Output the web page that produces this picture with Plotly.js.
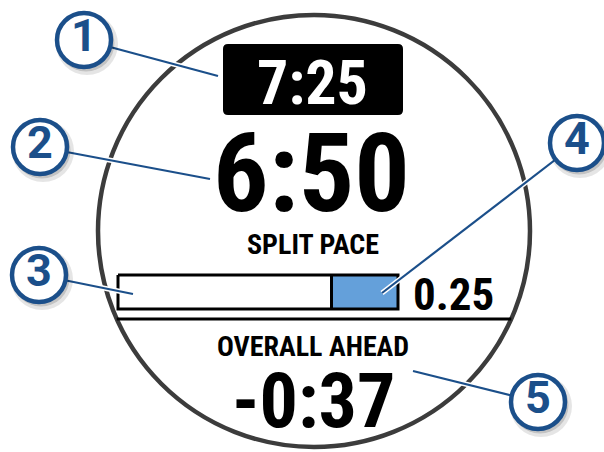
<!DOCTYPE html>
<html><head><meta charset="utf-8">
<script src="https://cdn.plot.ly/plotly-3.0.1.min.js"></script>
<style>html,body{margin:0;padding:0;background:#fff;}#chart{width:604px;height:452px;}</style>
</head><body><div id="chart"></div>
<script>
// ---- data ----
const targetPace = "7:25";
const splitPace = "6:50";
const splitLabel = "SPLIT PACE";
const splitProgress = 0.25;           // fraction of split completed
const splitDistanceLabel = "0.25";
const overallLabel = "OVERALL AHEAD";
const overallValue = "-0:37";
const calloutNumbers = ["1", "2", "3", "4", "5"];
const calloutX = [84, 40, 39, 577, 538];
const calloutY = [40, 147, 275, 143, 402];
const calloutTipX = [218, 210, 133, 382, 413];
const calloutTipY = [76, 179, 294, 293, 371];

// ---- geometry ----
const FONT = "Roboto Condensed, Liberation Sans Narrow, DejaVu Sans Condensed, Roboto, sans-serif";
const BLUE = "#1b4f8a";
const cx = 314, cy = 231, R = 216;
const boxL = 118, boxR = 398, boxT = 275, boxB = 309;
const divY = 319;
const half = Math.sqrt(R*R - (divY-cy)*(divY-cy));

const traces = [];
// blue progress bar
const barW = (boxR - boxL) * splitProgress * 0.95;
traces.push({type:'bar', orientation:'h', y:[(boxT+boxB)/2], x:[barW], base:[boxR - barW],
  width:[boxB-boxT], marker:{color:'#64a0da', line:{width:0}}, hoverinfo:'skip', showlegend:false});
// box outline
traces.push({type:'scatter', mode:'lines', x:[boxL,boxR,boxR,boxL,boxL], y:[boxT,boxT,boxB,boxB,boxT],
  line:{color:'#000', width:3}, hoverinfo:'skip', showlegend:false});
traces.push({type:'scatter', mode:'lines', x:[boxR-barW, boxR-barW], y:[boxT,boxB],
  line:{color:'#000', width:3}, hoverinfo:'skip', showlegend:false});
// callout lines
for (let i=0;i<calloutNumbers.length;i++){
  traces.push({type:'scatter', mode:'lines', x:[calloutX[i], calloutTipX[i]], y:[calloutY[i], calloutTipY[i]],
    line:{color:'#ffffff', width:5}, hoverinfo:'skip', showlegend:false});
  traces.push({type:'scatter', mode:'lines', x:[calloutX[i], calloutTipX[i]], y:[calloutY[i], calloutTipY[i]],
    line:{color:BLUE, width:2.2}, hoverinfo:'skip', showlegend:false});
}
// callout shadows
traces.push({type:'scatter', mode:'markers', x:calloutX.map(v=>v+3), y:calloutY.map(v=>v+4),
  marker:{size:62, color:'rgba(0,0,0,0.10)', line:{width:0}}, hoverinfo:'skip', showlegend:false});
traces.push({type:'scatter', mode:'markers', x:calloutX.map(v=>v+2), y:calloutY.map(v=>v+3),
  marker:{size:57, color:'rgba(0,0,0,0.15)', line:{width:0}}, hoverinfo:'skip', showlegend:false});
// callout circles
traces.push({type:'scatter', mode:'markers+text', x:calloutX, y:calloutY, text:calloutNumbers,
  textposition:'middle center', textfont:{family:"Roboto, sans-serif", size:45, weight:700, color:BLUE},
  marker:{size:54, color:'#fff', line:{color:BLUE, width:4.5}}, hoverinfo:'skip', showlegend:false});

const shapes = [
  {type:'circle', layer:'below', x0:cx-R, x1:cx+R, y0:cy-R, y1:cy+R, line:{color:'#3c3c3c', width:4.5}},
  {type:'line', layer:'below', x0:cx-half, x1:cx+half, y0:divY, y1:divY, line:{color:'#000', width:3}},
  {type:'path', layer:'below', path:'M 228 44 L 398 44 Q 403 44 403 49 L 403 110 Q 403 115 398 115 L 228 115 Q 223 115 223 110 L 223 49 Q 223 44 228 44 Z',
   fillcolor:'#000', line:{width:0}}
];

const ann = (x,y,text,size,color,xanchor) => ({x, y, text, showarrow:false, xanchor:xanchor||'center', yanchor:'middle',
  font:{family:FONT, size, color, weight:700}});
const annotations = [
  ann(312, 82, targetPace, 62, '#fff'),
  ann(311, 173, splitPace, 110, '#000'),
  ann(313, 244, splitLabel, 28, '#000'),
  ann(411, 294, splitDistanceLabel, 45, '#000', 'left'),
  ann(313, 346, overallLabel, 28, '#000'),
  ann(313, 401, overallValue, 76, '#000')
];

Plotly.newPlot('chart', traces, {
  width:604, height:452, margin:{l:0,r:0,t:0,b:0}, paper_bgcolor:'#fff', plot_bgcolor:'#fff',
  xaxis:{range:[0,604], visible:false, fixedrange:true},
  yaxis:{range:[452,0], visible:false, fixedrange:true},
  shapes, annotations, showlegend:false, bargap:0
}, {staticPlot:true});
</script></body></html>
